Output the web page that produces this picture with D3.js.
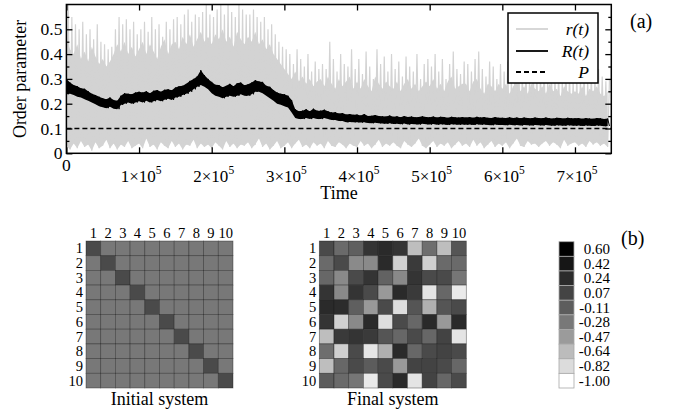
<!DOCTYPE html>
<html>
<head>
<meta charset="utf-8">
<script src="https://cdn.jsdelivr.net/npm/d3@7"></script>
<style>
  body { margin: 0; background: #fff; }
  svg { display: block; }
</style>
</head>
<body>
<div id="chart"></div>
<script>
// ---------- data: panel (a) ----------
// samples every 5000 time steps, t = 0 .. 745000
const step = 5000;

// r(t): top of each spike, top of the dense body, and bottom troughs
const rPeak = [
  .60,.55,.52,.50,.53,.48,.50,.46,.52,.45,
  .44,.42,.43,.50,.55,.52,.54,.50,.53,.48,
  .50,.53,.49,.55,.50,.52,.47,.53,.50,.54,
  .55,.52,.56,.58,.53,.56,.55,.57,.60,.56,
  .55,.58,.60,.56,.60,.57,.55,.60,.58,.56,
  .56,.58,.55,.53,.55,.50,.52,.48,.45,.43,
  .42,.40,.36,.42,.38,.35,.40,.33,.37,.34,
  .36,.34,.45,.38,.33,.40,.36,.35,.42,.34,
  .38,.32,.41,.35,.30,.42,.36,.39,.33,.40,
  .34,.37,.31,.39,.35,.33,.40,.30,.36,.38,
  .35,.40,.33,.38,.30,.36,.41,.34,.32,.37,
  .36,.33,.38,.41,.34,.31,.37,.35,.30,.36,
  .33,.37,.30,.35,.39,.32,.34,.30,.36,.33,
  .32,.35,.30,.34,.31,.33,.29,.35,.32,.30,
  .31,.30,.33,.29,.32,.30,.34,.31,.29,.30
];
const rCore = [
  .46,.42,.40,.44,.38,.41,.37,.43,.39,.36,
  .38,.35,.37,.40,.44,.41,.45,.40,.43,.39,
  .42,.45,.40,.44,.41,.38,.43,.46,.40,.44,
  .45,.42,.47,.44,.48,.43,.46,.49,.45,.47,
  .44,.48,.46,.50,.45,.47,.43,.49,.46,.44,
  .47,.45,.49,.44,.46,.42,.44,.40,.38,.36,
  .34,.32,.30,.33,.29,.31,.28,.30,.27,.29,
  .30,.27,.31,.28,.26,.30,.27,.29,.31,.26,
  .29,.26,.30,.27,.25,.31,.28,.26,.29,.27,
  .26,.29,.25,.28,.30,.26,.28,.25,.27,.29,
  .27,.30,.26,.28,.25,.29,.31,.26,.27,.28,
  .28,.25,.29,.30,.26,.24,.28,.27,.25,.28,
  .26,.28,.24,.27,.29,.25,.27,.24,.28,.26,
  .25,.27,.24,.28,.25,.26,.23,.27,.25,.24,
  .25,.24,.27,.23,.26,.25,.27,.24,.23,.25
];
const rLow = [
  .03,.015,.04,.02,.05,.025,.035,.01,.045,.02,
  .03,.055,.02,.04,.015,.035,.025,.05,.02,.03,
  .04,.02,.06,.025,.035,.015,.045,.03,.02,.05,
  .025,.04,.015,.035,.03,.055,.02,.04,.025,.035,
  .02,.045,.03,.015,.05,.025,.04,.02,.035,.03,
  .045,.02,.035,.06,.025,.04,.015,.03,.05,.02,
  .03,.045,.02,.04,.055,.025,.035,.02,.045,.03,
  .04,.02,.05,.03,.025,.045,.035,.02,.04,.03,
  .025,.05,.03,.04,.02,.035,.055,.025,.04,.03,
  .045,.03,.02,.05,.035,.025,.04,.06,.03,.02,
  .035,.05,.025,.04,.03,.045,.02,.035,.05,.03,
  .04,.025,.055,.03,.045,.02,.035,.05,.025,.04,
  .03,.045,.02,.04,.06,.03,.025,.05,.035,.04,
  .025,.04,.05,.03,.045,.035,.02,.055,.03,.04,
  .045,.03,.04,.025,.05,.035,.045,.03,.04,.025
];

// R(t): upper and lower edge of the running average band
const RHi = [
  .30,.285,.275,.27,.262,.26,.25,.24,.235,.228,
  .222,.218,.225,.215,.212,.232,.242,.24,.238,.245,
  .248,.245,.25,.242,.252,.255,.248,.256,.258,.254,
  .265,.27,.272,.28,.292,.30,.31,.335,.315,.30,
  .288,.276,.275,.266,.272,.28,.27,.282,.285,.274,
  .278,.285,.295,.29,.288,.272,.268,.255,.245,.24,
  .238,.232,.215,.178,.17,.172,.178,.17,.18,.172,
  .172,.176,.17,.165,.166,.16,.162,.156,.158,.155,
  .156,.152,.158,.15,.151,.154,.15,.149,.148,.152,
  .147,.149,.145,.15,.146,.148,.145,.146,.149,.146,
  .145,.148,.144,.147,.146,.143,.147,.145,.144,.146,
  .144,.146,.143,.147,.144,.146,.143,.142,.146,.143,
  .143,.142,.145,.142,.144,.141,.144,.142,.141,.144,
  .142,.141,.144,.141,.14,.143,.142,.14,.143,.141,
  .141,.142,.139,.142,.14,.139,.142,.141,.138,.14
];
const RLo = [
  .238,.24,.235,.228,.225,.218,.212,.205,.198,.19,
  .186,.182,.188,.18,.178,.195,.2,.205,.2,.205,
  .21,.205,.212,.205,.21,.215,.21,.216,.22,.215,
  .225,.228,.235,.24,.248,.258,.268,.275,.268,.258,
  .242,.232,.228,.222,.228,.232,.228,.232,.238,.232,
  .232,.238,.248,.248,.242,.232,.222,.212,.2,.196,
  .19,.185,.165,.142,.138,.138,.142,.138,.142,.138,
  .138,.142,.138,.134,.134,.13,.13,.125,.126,.125,
  .125,.124,.125,.122,.121,.123,.121,.12,.119,.121,
  .118,.119,.117,.12,.116,.118,.117,.116,.119,.117,
  .116,.118,.115,.117,.116,.114,.117,.116,.115,.116,
  .115,.116,.114,.117,.115,.116,.114,.113,.116,.114,
  .114,.113,.115,.113,.114,.112,.114,.113,.112,.114,
  .113,.112,.114,.112,.111,.113,.112,.111,.113,.112,
  .111,.112,.11,.112,.111,.11,.112,.111,.109,.11
];
const P = 0.1;

const xTicks = [0, 1e5, 2e5, 3e5, 4e5, 5e5, 6e5, 7e5];
const yTicks = [0, 0.1, 0.2, 0.3, 0.4, 0.5];
const yMinor = [0.05, 0.15, 0.25, 0.35, 0.45, 0.55];

// ---------- data: panel (b) ----------
const nodes = ["1","2","3","4","5","6","7","8","9","10"];
const initialDiag = 0.03;
const initialOff = -0.28;
const finalMatrix = [
  [ 0.03,-0.19,-0.12, 0.18, 0.25, 0.18,-0.65,-0.22,-0.65,-0.05],
  [-0.19, 0.03,-0.38,-0.38, 0.25,-0.75, 0.14,-0.75,-0.19,-0.19],
  [-0.17,-0.37, 0.03, 0.18,-0.14,-0.37, 0.18, 0.03, 0.03,-0.27],
  [ 0.18,-0.37, 0.18, 0.03,-0.46, 0.25, 0.14,-0.86,-0.17,-0.89],
  [ 0.25, 0.23,-0.12,-0.46, 0.03,-0.83,-0.05,-0.58,-0.05, 0.03],
  [ 0.18,-0.75,-0.37, 0.25,-0.83, 0.03,-0.17, 0.25,-0.46, 0.25],
  [-0.65, 0.14, 0.18, 0.14,-0.05,-0.17, 0.03,-0.17, 0.08,-0.86],
  [-0.22,-0.75, 0.03,-0.87,-0.58, 0.25,-0.17, 0.03, 0.08, 0.03],
  [-0.65,-0.17, 0.03,-0.10, 0.03,-0.46, 0.08, 0.08, 0.03,-0.17],
  [-0.10,-0.19,-0.27,-0.89, 0.03, 0.25,-0.86, 0.08,-0.17, 0.03]
];
const cbLevels = [0.60, 0.42, 0.24, 0.07, -0.11, -0.28, -0.47, -0.64, -0.82, -1.00];
const cbColors = ["#000000","#161616","#2b2b2b","#444444","#5d5d5d","#787878","#9b9b9b","#bcbcbc","#dcdcdc","#ffffff"];

// ---------- drawing ----------
const svg = d3.select("#chart").append("svg")
  .attr("width", 674).attr("height", 412)
  .attr("font-family", "'Liberation Serif', 'DejaVu Serif', serif");

const pLeft = 66.4, pRight = 611.3, pTop = 4.5, pBottom = 153.3;
const x = d3.scaleLinear().domain([0, 750000]).range([pLeft, pRight]);
const y = d3.scaleLinear().domain([0, 0.6]).range([pBottom, pTop]);

svg.append("clipPath").attr("id", "clipA")
  .append("rect").attr("x", pLeft).attr("y", pTop)
  .attr("width", pRight - pLeft).attr("height", pBottom - pTop);

const plot = svg.append("g").attr("clip-path", "url(#clipA)");

// r(t): dense body + spikes
const rGray = "#d3d3d3";
plot.append("path")
  .datum(rCore)
  .attr("fill", rGray)
  .attr("d", d3.area()
    .x((d, i) => x(i * step))
    .y0((d, i) => y(rLow[i]))
    .y1(d => y(d)));

const rZig = [];
rPeak.forEach((v, i) => {
  rZig.push([i * step, rLow[i]]);
  rZig.push([i * step + step / 2, v]);
});
plot.append("path")
  .datum(rZig)
  .attr("fill", "none")
  .attr("stroke", rGray)
  .attr("stroke-width", 1.2)
  .attr("d", d3.line().x(d => x(d[0])).y(d => y(d[1])));

// P
plot.append("line")
  .attr("x1", x(0)).attr("x2", x(750000))
  .attr("y1", y(P)).attr("y2", y(P))
  .attr("stroke", "#000").attr("stroke-width", 1.4)
  .attr("stroke-dasharray", "5,3");

// R(t): solid band between its lower and upper edge, plus a thin trace
plot.append("path")
  .datum(RHi)
  .attr("fill", "#000")
  .attr("d", d3.area()
    .x((d, i) => x(i * step))
    .y0((d, i) => y(RLo[i]))
    .y1(d => y(d)));
const RZig = [];
RHi.forEach((v, i) => {
  RZig.push([i * step, v]);
  RZig.push([i * step + step / 2, RLo[i]]);
});
plot.append("path")
  .datum(RZig)
  .attr("fill", "none")
  .attr("stroke", "#000")
  .attr("stroke-width", 1)
  .attr("d", d3.line().x(d => x(d[0])).y(d => y(d[1])));

// axes (inward ticks, no domain lines)
function noDomain(g) { g.select(".domain").remove(); g.selectAll("text").remove(); }
svg.append("g").attr("transform", `translate(0,${pBottom})`)
  .call(d3.axisBottom(x).tickValues(xTicks).tickSizeInner(-6)).call(noDomain);
svg.append("g").attr("transform", `translate(0,${pTop})`)
  .call(d3.axisTop(x).tickValues(xTicks).tickSizeInner(-6)).call(noDomain);
svg.append("g").attr("transform", `translate(${pLeft},0)`)
  .call(d3.axisLeft(y).tickValues(yTicks).tickSizeInner(-6)).call(noDomain);
svg.append("g").attr("transform", `translate(${pLeft},0)`)
  .call(d3.axisLeft(y).tickValues(yMinor).tickSizeInner(-3)).call(noDomain);
svg.append("g").attr("transform", `translate(${pRight},0)`)
  .call(d3.axisRight(y).tickValues(yTicks).tickSizeInner(-6)).call(noDomain);
svg.append("g").attr("transform", `translate(${pRight},0)`)
  .call(d3.axisRight(y).tickValues(yMinor).tickSizeInner(-3)).call(noDomain);
svg.selectAll(".tick line").attr("stroke", "#000").attr("stroke-width", 1.3);

svg.append("rect")
  .attr("x", pLeft).attr("y", pTop)
  .attr("width", pRight - pLeft).attr("height", pBottom - pTop)
  .attr("fill", "none").attr("stroke", "#000").attr("stroke-width", 1.5);

// y tick labels
svg.selectAll(".ylab").data(yTicks).enter().append("text")
  .attr("x", pLeft - 4).attr("y", d => y(d) + 6)
  .attr("text-anchor", "end").attr("font-size", 17.5)
  .text(d => d === 0 ? "0" : d3.format(".1f")(d));

// x tick labels
xTicks.forEach(t => {
  if (t === 0) {
    svg.append("text").attr("x", x(0)).attr("y", 171)
      .attr("text-anchor", "middle").attr("font-size", 17.5).text("0");
  } else {
    const tx = svg.append("text").attr("x", x(t) + 2).attr("y", 182)
      .attr("text-anchor", "middle").attr("font-size", 17);
    tx.append("tspan").text(`${t / 1e5}\u00d710`);
    tx.append("tspan").attr("font-size", 11.5).attr("dy", -8).text("5");
  }
});

svg.append("text").attr("x", 339).attr("y", 199)
  .attr("text-anchor", "middle").attr("font-size", 18).text("Time");
svg.append("text")
  .attr("transform", `translate(26,${(pTop + pBottom) / 2}) rotate(-90)`)
  .attr("text-anchor", "middle").attr("font-size", 18).text("Order parameter");
svg.append("text").attr("x", 630).attr("y", 28).attr("font-size", 20).text("(a)");

// legend
const lg = svg.append("g");
lg.append("rect").attr("x", 508).attr("y", 13).attr("width", 90).attr("height", 70)
  .attr("fill", "#fff").attr("stroke", "#000").attr("stroke-width", 1.5);
const legendItems = [
  { label: "r(t)", color: rGray, dash: null, yy: 29 },
  { label: "R(t)", color: "#000", dash: null, yy: 51 },
  { label: "P", color: "#000", dash: "5,3", yy: 72 }
];
legendItems.forEach(d => {
  lg.append("line").attr("x1", 516).attr("x2", 548).attr("y1", d.yy).attr("y2", d.yy)
    .attr("stroke", d.color).attr("stroke-width", 1.8)
    .attr("stroke-dasharray", d.dash);
  lg.append("text").attr("x", 589).attr("y", d.yy + 5.5).attr("text-anchor", "end")
    .attr("font-size", 17.5).attr("font-style", "italic").text(d.label);
});

// ---------- panel (b) ----------
const color = d3.scaleLinear().domain(cbLevels).range(cbColors).clamp(true);
const cellSize = 14.7;
const mTop = 241;

function drawMatrix(x0, getVal, caption) {
  const band = d3.scaleBand().domain(nodes).range([x0, x0 + cellSize * 10]);
  const bandY = d3.scaleBand().domain(nodes).range([mTop, mTop + cellSize * 10]);
  const g = svg.append("g");
  nodes.forEach((rn, i) => {
    nodes.forEach((cn, j) => {
      g.append("rect")
        .attr("x", band(cn)).attr("y", bandY(rn))
        .attr("width", band.bandwidth()).attr("height", bandY.bandwidth())
        .attr("fill", color(getVal(i, j)))
        .attr("stroke", "rgba(30,30,30,0.55)").attr("stroke-width", 0.7);
    });
  });
  g.selectAll(".col").data(nodes).enter().append("text")
    .attr("x", d => band(d) + band.bandwidth() / 2).attr("y", mTop - 3)
    .attr("text-anchor", "middle").attr("font-size", 14.5).text(d => d);
  g.selectAll(".row").data(nodes).enter().append("text")
    .attr("x", x0 - 3).attr("y", d => bandY(d) + bandY.bandwidth() / 2 + 5)
    .attr("text-anchor", "end").attr("font-size", 14.5).text(d => d);
  g.append("text").attr("x", x0 + cellSize * 5).attr("y", 405)
    .attr("text-anchor", "middle").attr("font-size", 18).text(caption);
}

drawMatrix(86, (i, j) => i === j ? initialDiag : initialOff, "Initial system");
drawMatrix(319.3, (i, j) => finalMatrix[i][j], "Final system");

// colour bar
const cbY = d3.scaleBand().domain(cbLevels.map(String)).range([241.7, 388]);
const cb = svg.append("g");
cbLevels.forEach((v, i) => {
  cb.append("rect")
    .attr("x", 559).attr("y", cbY(String(v)))
    .attr("width", 15).attr("height", cbY.bandwidth())
    .attr("fill", cbColors[i]).attr("stroke", "#a8a8a8").attr("stroke-width", 0.8);
  cb.append("text").attr("x", 610).attr("y", cbY(String(v)) + cbY.bandwidth() / 2 + 5)
    .attr("text-anchor", "end").attr("font-size", 15).text(d3.format(".2f")(v).replace("\u2212", "-"));
});
svg.append("text").attr("x", 621).attr("y", 245).attr("font-size", 20).text("(b)");
</script>
</body>
</html>
